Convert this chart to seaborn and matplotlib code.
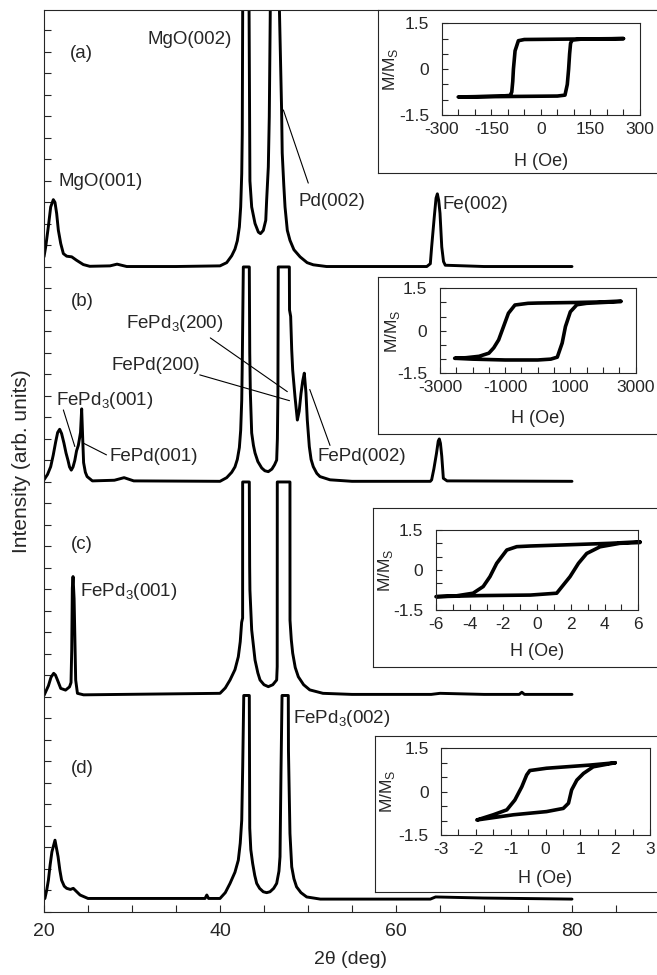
import numpy as np
import pandas as pd
import matplotlib
matplotlib.use("Agg")
import matplotlib.pyplot as plt
from matplotlib.ticker import MultipleLocator, NullFormatter
import seaborn as sns

# ---------------- XRD scans: 2θ (deg) and intensity above each scan's baseline ----------------
tt_a = [20.0, 20.19, 20.49, 20.76, 21.06, 21.25, 21.44, 21.63, 21.9, 22.2, 22.58, 23.15, 23.7,
        24.47, 25.2, 27.5, 28.3, 29.4, 35.0, 40.0, 40.76, 41.33, 41.7, 41.97, 42.2, 42.35,
        42.47, 42.53, 42.58, 42.95, 43.3, 43.4, 43.6, 43.98, 44.36, 44.6, 44.92, 45.2, 45.3,
        45.49, 45.6, 45.72, 46.25, 46.74, 47.0, 47.07, 47.25, 47.39, 47.65, 47.95, 48.4, 49.1,
        49.9, 50.6, 52.1, 60.0, 63.5, 63.9, 64.05, 64.35, 64.55, 64.7, 64.85, 65.0, 65.2,
        65.4, 65.6, 70.0, 80.0]
int_a = [0.47, 0.93, 1.86, 2.79, 3.13, 3.0, 2.48, 1.71, 1.09, 0.62, 0.5, 0.47, 0.31,
         0.11, 0.03, 0.05, 0.13, 0.02, 0.02, 0.05, 0.2, 0.52, 0.83, 1.22, 1.86, 2.79,
         4.34, 6.2, 12.2, 25.0, 12.2, 4.0, 2.79, 2.02, 1.62, 1.55, 1.7, 2.17, 3.1,
         4.65, 6.98, 12.2, 25.0, 12.2, 7.3, 5.3, 3.8, 2.79, 1.7, 1.24, 0.8, 0.47,
         0.2, 0.1, 0.02, 0.02, 0.02, 0.15, 0.93, 2.33, 3.2, 3.4, 3.1, 2.5, 0.93,
         0.25, 0.08, 0.02, 0.02]

tt_b = [20.0, 20.4, 20.76, 21.05, 21.33, 21.55, 21.78, 22.0, 22.27, 22.5, 22.73, 22.9, 23.1,
        23.3, 23.5, 23.7, 23.9, 24.15, 24.28, 24.4, 24.5, 24.7, 24.9, 25.5, 28.0, 29.1,
        30.2, 40.0, 40.76, 41.33, 41.7, 41.97, 42.2, 42.35, 42.47, 42.53, 42.65, 43.33,
        43.38, 43.45, 43.6, 43.8, 43.98, 44.3, 44.74, 45.1, 45.49, 45.9, 46.2, 46.44, 46.52,
        46.58, 46.62, 47.88, 47.9, 48.03, 48.15, 48.26, 48.52, 48.79, 49.0, 49.2, 49.4,
        49.58, 49.77, 49.92, 50.15, 50.35, 50.6, 51.0, 51.36, 52.5, 55.0, 63.9, 64.05,
        64.3, 64.6, 64.8, 64.92, 65.05, 65.2, 65.38, 65.8, 80.0]
int_b = [0.1, 0.35, 0.71, 1.25, 1.87, 2.3, 2.45, 2.25, 1.8, 1.35, 1.0, 0.7, 0.55,
         0.7, 1.0, 1.45, 1.7, 2.3, 3.4, 2.0, 0.9, 0.45, 0.25, 0.05, 0.08, 0.2,
         0.05, 0.03, 0.2, 0.45, 0.7, 1.05, 1.6, 2.4, 3.8, 5.5, 10.0, 10.0,
         6.0, 4.14, 2.28, 1.7, 1.35, 0.95, 0.65, 0.52, 0.48, 0.6, 0.8, 1.02, 2.0,
         4.0, 10.0, 10.0, 8.0, 7.7, 6.14, 5.2, 3.97, 2.88, 3.3, 4.1, 4.7,
         5.06, 4.14, 2.88, 1.64, 1.05, 0.71, 0.4, 0.25, 0.1, 0.03, 0.03, 0.1,
         0.6, 1.33, 1.9, 2.0, 1.8, 1.2, 0.17, 0.05, 0.03]

tt_c = [20.0, 20.5, 20.8, 21.1, 21.3, 21.5, 21.9, 22.45, 22.9, 23.07, 23.15, 23.22, 23.3,
        23.42, 23.49, 23.6, 23.8, 24.5, 40.0, 40.6, 41.14, 41.7, 42.08, 42.3, 42.46, 42.57,
        42.575, 43.33, 43.37, 43.4, 43.6, 43.98, 44.3, 44.55, 45.0, 45.49, 46.0, 46.44, 46.5,
        46.51, 47.95, 47.955, 48.1, 48.26, 48.55, 48.9, 49.5, 50.2, 51.7, 55.0, 64.0, 65.0,
        70.0, 74.0, 74.3, 74.6, 80.0]
int_c = [0.0, 0.45, 0.85, 1.03, 0.95, 0.75, 0.33, 0.25, 0.4, 0.6, 2.1, 5.0, 5.53,
         4.5, 3.05, 0.72, 0.1, 0.03, 0.1, 0.35, 0.72, 1.2, 1.8, 2.5, 3.4, 3.6,
         9.93, 9.93, 6.0, 4.9, 3.05, 1.65, 1.05, 0.72, 0.5, 0.41, 0.5, 0.72, 1.34,
         9.93, 9.93, 3.5, 2.6, 1.97, 1.3, 0.87, 0.5, 0.26, 0.1, 0.05, 0.05, 0.1,
         0.05, 0.05, 0.15, 0.05, 0.05]

tt_d = [20.0, 20.1, 20.3, 20.5, 20.7, 20.9, 21.25, 21.6, 21.8, 22.0, 22.3, 22.58, 23.0, 23.33,
        23.7, 24.1, 25.0, 38.3, 38.5, 38.7, 40.0, 40.6, 41.14, 41.7, 42.08, 42.3, 42.47, 42.58,
        42.7, 43.33, 43.38, 43.5, 43.71, 43.95, 44.17, 44.5, 44.92, 45.3, 45.68, 46.1, 46.44,
        46.7, 46.82, 46.93, 47.05, 47.76, 47.78, 47.95, 48.15, 48.4, 48.7, 49.2, 49.85, 51.4,
        63.9, 64.5, 69.9, 80.0]
int_d = [0.0, 0.03, 0.4, 0.88, 1.6, 2.2, 2.74, 1.97, 1.35, 0.88, 0.6, 0.5, 0.45, 0.5,
         0.35, 0.19, 0.03, 0.03, 0.19, 0.03, 0.03, 0.3, 0.73, 1.25, 1.81, 2.6, 3.67, 6.15,
         9.47, 9.47, 3.3, 2.3, 1.66, 1.1, 0.73, 0.5, 0.34, 0.3, 0.34, 0.5, 0.73,
         1.3, 1.97, 5.9, 9.47, 9.47, 6.9, 3.05, 1.5, 0.95, 0.57, 0.3, 0.1, 0.0,
         0.0, 0.1, 0.05, 0.0]

scan_baselines = [30.0, 20.0, 10.07, 0.6]

# ---------------- Hysteresis loops: field H (Oe) and reduced moment M/Ms ----------------
h_a_desc = [250, 150, 50, -50, -68, -78, -83, -85, -88, -93, -120, -200, -250]
m_a_desc = [1.0, 0.99, 0.98, 0.97, 0.93, 0.6, 0.0, -0.4, -0.75, -0.86, -0.88, -0.9, -0.91]
h_a_asc = [-250, -150, -50, 50, 73, 80, 84, 87, 90, 95, 120, 200, 250]
m_a_asc = [-0.91, -0.9, -0.89, -0.88, -0.85, -0.5, 0.0, 0.5, 0.85, 0.95, 0.98, 0.99, 1.0]

h_b_desc = [2550, 2000, 1200, 0, -300, -700, -900, -1050, -1200, -1350, -1500, -1800, -2200, -2550]
m_b_desc = [1.05, 1.02, 1.0, 0.98, 0.97, 0.91, 0.62, 0.15, -0.32, -0.6, -0.79, -0.9, -0.95, -0.97]
h_b_asc = [-2550, -2000, -1000, 0, 400, 600, 750, 850, 1000, 1200, 1500, 2000, 2550]
m_b_asc = [-0.97, -1.0, -1.03, -1.03, -1.0, -0.93, -0.43, 0.15, 0.67, 0.92, 0.97, 1.0, 1.03]

h_c_desc = [6.1, 4.3, 1.55, -0.4, -1.21, -1.8, -2.4, -2.8, -3.2, -3.8, -4.8, -6.0]
m_c_desc = [1.06, 1.0, 0.94, 0.9, 0.875, 0.75, 0.25, -0.25, -0.62, -0.87, -0.97, -1.0]
h_c_asc = [-6.0, -3.4, -0.4, 1.16, 1.95, 2.45, 2.94, 3.73, 4.9, 6.1]
m_c_asc = [-1.0, -0.96, -0.94, -0.87, -0.25, 0.25, 0.62, 0.87, 1.0, 1.03]

h_d_desc = [2.0, 1.28, 0.03, -0.45, -0.54, -0.68, -0.88, -1.11, -1.5, -1.97]
m_d_desc = [1.0, 0.92, 0.81, 0.73, 0.58, 0.17, -0.29, -0.63, -0.8, -0.98]
h_d_asc = [-1.97, -0.92, 0.03, 0.51, 0.66, 0.75, 0.9, 1.09, 1.37, 2.0]
m_d_asc = [-0.98, -0.8, -0.69, -0.58, -0.4, 0.06, 0.4, 0.63, 0.86, 1.0]

# labelled field ticks of each inset
h_ticks_a = [-300, -150, 0, 150, 300]
h_ticks_b = [-3000, -1000, 1000, 3000]
h_ticks_c = [-6, -4, -2, 0, 2, 4, 6]
h_ticks_d = [-3, -2, -1, 0, 1, 2, 3]

# ---------------- style ----------------
sns.set_style("ticks")
plt.rcParams["font.family"] = ["Liberation Sans", "DejaVu Sans"]
plt.rcParams["mathtext.fontset"] = "custom"
plt.rcParams["mathtext.rm"] = "Liberation Sans"
plt.rcParams["axes.linewidth"] = 0.8

W, H = 657, 975


def fig_rect(left, top, right, bottom):
    """Pixel box -> figure fraction rectangle."""
    return [left / W, 1 - bottom / H, (right - left) / W, (bottom - top) / H]


fig = plt.figure(figsize=(W / 100, H / 100), dpi=100)
ax = fig.add_axes(fig_rect(44, 10, 660, 912))

scans = [(tt_a, int_a), (tt_b, int_b), (tt_c, int_c), (tt_d, int_d)]
for (tt, inten), base in zip(scans, scan_baselines):
    df = pd.DataFrame({"two_theta": tt, "intensity": np.asarray(inten) + base})
    sns.lineplot(data=df, x="two_theta", y="intensity", ax=ax, color="black", lw=2.1,
                 estimator=None, sort=False, legend=False)

ax.set_xlim(20, 90)
ax.set_ylim(0, 41.95)
ax.xaxis.set_major_locator(MultipleLocator(20))
ax.xaxis.set_minor_locator(MultipleLocator(5))
ax.yaxis.set_major_locator(MultipleLocator(1))
ax.yaxis.set_major_formatter(NullFormatter())
ax.tick_params(which="both", direction="in", length=5, width=0.8, labelsize=14, pad=8)
ax.set_xlabel("2θ (deg)", fontsize=14, va="center")
ax.xaxis.set_label_coords(0.497, -0.053)
ax.set_ylabel("Intensity (arb. units)", fontsize=15, va="center")
ax.yaxis.set_label_coords(-0.037, 0.5)

FS = 13.5


def lbl(x, y, s, ha="left"):
    ax.text(x, y, s, fontsize=FS, ha=ha, va="center")


def leader(x0, y0, x1, y1):
    ax.annotate("", xy=(x1, y1), xytext=(x0, y0),
                arrowprops=dict(arrowstyle="-", lw=0.8, color="black", shrinkA=0, shrinkB=0))


lbl(24.3, 39.95, "(a)", ha="center")
lbl(36.6, 40.56, "MgO(002)", ha="center")
lbl(26.4, 33.97, "MgO(001)", ha="center")
lbl(48.9, 33.04, "Pd(002)")
leader(50.03, 33.9, 47.2, 37.3)
lbl(65.3, 32.9, "Fe(002)")

lbl(24.3, 28.4, "(b)", ha="center")
lbl(29.3, 27.35, "FePd$_\\mathregular{3}$(200)")
leader(38.9, 26.7, 47.65, 24.2)
lbl(27.7, 25.4, "FePd(200)")
leader(37.7, 24.98, 47.9, 23.78)
lbl(21.4, 23.8, "FePd$_\\mathregular{3}$(001)")
leader(22.2, 23.35, 23.5, 21.65)
lbl(27.5, 21.2, "FePd(001)")
leader(27.1, 21.26, 24.5, 21.8)
lbl(51.1, 21.2, "FePd(002)")
leader(52.5, 21.7, 50.2, 24.3)

lbl(24.3, 17.07, "(c)", ha="center")
lbl(24.1, 14.9, "FePd$_\\mathregular{3}$(001)")
lbl(48.3, 9.0, "FePd$_\\mathregular{3}$(002)")
lbl(24.3, 6.68, "(d)", ha="center")

# ---------------- hysteresis insets ----------------
insets = [
    dict(box=(378, 10, 668, 173), axes=(441.7, 23.3, 640, 115), xlim=(-300, 300),
         ticks=h_ticks_a, minor=50, loop=(h_a_desc, m_a_desc, h_a_asc, m_a_asc),
         ylab_x=-0.26, xlab_y=-0.51),
    dict(box=(378, 277, 668, 434), axes=(440, 288.3, 635.5, 373.3), xlim=(-3000, 3000),
         ticks=h_ticks_b, minor=500, loop=(h_b_desc, m_b_desc, h_b_asc, m_b_asc),
         ylab_x=-0.245, xlab_y=-0.53),
    dict(box=(373, 508, 668, 667), axes=(436, 530, 638.3, 610), xlim=(-6, 6),
         ticks=h_ticks_c, minor=1, loop=(h_c_desc, m_c_desc, h_c_asc, m_c_asc),
         ylab_x=-0.252, xlab_y=-0.52),
    dict(box=(375, 736, 668, 892), axes=(441, 748.3, 650, 835), xlim=(-3, 3),
         ticks=h_ticks_d, minor=0.5, loop=(h_d_desc, m_d_desc, h_d_asc, m_d_asc),
         ylab_x=-0.254, xlab_y=-0.5),
]

for spec in insets:
    frame = fig.add_axes(fig_rect(*spec["box"]))
    frame.set_facecolor("white")
    frame.set_xticks([])
    frame.set_yticks([])
    for s in frame.spines.values():
        s.set_linewidth(0.8)

    iax = fig.add_axes(fig_rect(*spec["axes"]))
    h1, m1, h2, m2 = spec["loop"]
    loop = pd.DataFrame({"H": list(h1) + list(h2), "M": list(m1) + list(m2)})
    sns.lineplot(data=loop, x="H", y="M", ax=iax, color="black", lw=2.6,
                 estimator=None, sort=False, legend=False)
    for line in iax.lines:
        line.set_clip_on(False)
    iax.set_xlim(*spec["xlim"])
    iax.set_ylim(-1.5, 1.5)
    iax.set_xticks(spec["ticks"])
    iax.set_xticklabels(["%g" % v for v in spec["ticks"]])
    iax.xaxis.set_minor_locator(MultipleLocator(spec["minor"]))
    iax.set_yticks([-1.5, 0, 1.5])
    iax.set_yticklabels(["-1.5", "0", "1.5"])
    iax.yaxis.set_minor_locator(MultipleLocator(0.5))
    iax.set_xlim(*spec["xlim"])
    iax.tick_params(which="both", direction="in", length=4, width=0.8, labelsize=12.5)
    iax.tick_params(axis="x", which="both", pad=5)
    iax.tick_params(axis="y", which="both", pad=9)
    iax.set_xlabel("H (Oe)", fontsize=13, va="center")
    iax.xaxis.set_label_coords(0.5, spec["xlab_y"])
    iax.set_ylabel("M/M$_\\mathregular{S}$", fontsize=12.5, va="center")
    iax.yaxis.set_label_coords(spec["ylab_x"], 0.5)

fig.savefig("out.png", dpi=100)
